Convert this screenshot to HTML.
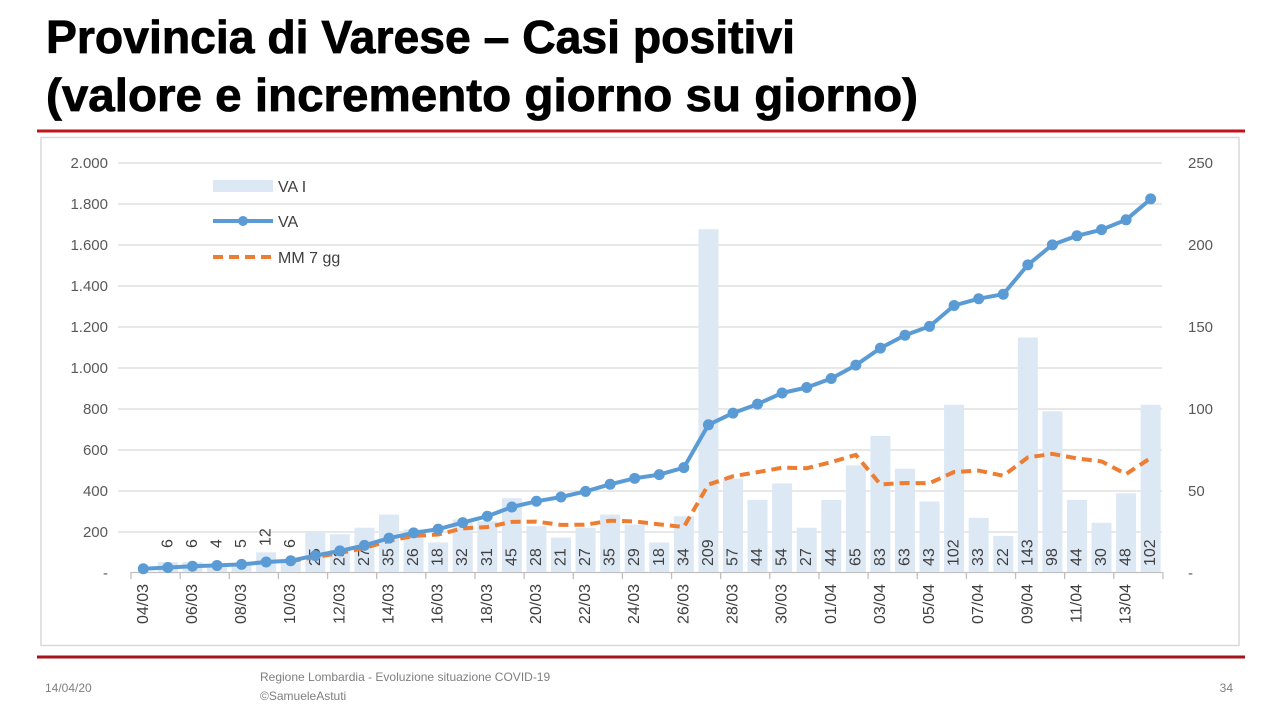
<!DOCTYPE html>
<html><head><meta charset="utf-8"><style>
html,body{margin:0;padding:0;background:#fff;width:1280px;height:720px;overflow:hidden}
svg{display:block}
text{font-family:"Liberation Sans",sans-serif}
</style></head><body>
<svg id="s" width="1280" height="720" viewBox="0 0 1280 720" xmlns="http://www.w3.org/2000/svg">
<text x="46" y="53" font-size="46" font-weight="bold" fill="#000" stroke="#000" stroke-width="0.8" textLength="749" lengthAdjust="spacingAndGlyphs">Provincia di Varese – Casi positivi</text>
<text x="46" y="111" font-size="46" font-weight="bold" fill="#000" stroke="#000" stroke-width="0.8" textLength="872" lengthAdjust="spacingAndGlyphs">(valore e incremento giorno su giorno)</text>
<line x1="37" y1="131" x2="1245" y2="131" stroke="#c0131b" stroke-width="3"/>
<line x1="37" y1="657" x2="1245" y2="657" stroke="#a4141a" stroke-width="3"/>
<rect x="41" y="137.5" width="1198" height="508" fill="none" stroke="#d9d9d9" stroke-width="1.5"/>
<g id="grid" stroke="#d9d9d9" stroke-width="1.3"></g>
<g id="bars" fill="#dde8f5"></g>
<g font-size="15" fill="#595959" text-anchor="end">
<text x="108" y="168">2.000</text><text x="108" y="209">1.800</text><text x="108" y="250">1.600</text><text x="108" y="291">1.400</text><text x="108" y="332">1.200</text><text x="108" y="373">1.000</text><text x="108" y="414">800</text><text x="108" y="455">600</text><text x="108" y="496">400</text><text x="108" y="537">200</text><text x="108" y="578">-</text>
</g>
<g font-size="15" fill="#595959">
<text x="1188" y="168">250</text><text x="1188" y="250">200</text><text x="1188" y="332">150</text><text x="1188" y="414">100</text><text x="1188" y="496">50</text><text x="1188" y="578">-</text>
</g>
<g id="labels" font-size="16" fill="#404040" dominant-baseline="central">
<text transform="translate(167.9,548) rotate(-90)">6</text>
<text transform="translate(192.4,548) rotate(-90)">6</text>
<text transform="translate(217.0,548) rotate(-90)">4</text>
<text transform="translate(241.6,548) rotate(-90)">5</text>
<text transform="translate(266.2,546) rotate(-90)">12</text>
<text transform="translate(290.7,548) rotate(-90)">6</text>
<text transform="translate(315.3,566) rotate(-90)">25</text>
<text transform="translate(339.9,566) rotate(-90)">23</text>
<text transform="translate(364.4,566) rotate(-90)">27</text>
<text transform="translate(389.0,566) rotate(-90)">35</text>
<text transform="translate(413.6,566) rotate(-90)">26</text>
<text transform="translate(438.1,566) rotate(-90)">18</text>
<text transform="translate(462.7,566) rotate(-90)">32</text>
<text transform="translate(487.3,566) rotate(-90)">31</text>
<text transform="translate(511.9,566) rotate(-90)">45</text>
<text transform="translate(536.4,566) rotate(-90)">28</text>
<text transform="translate(561.0,566) rotate(-90)">21</text>
<text transform="translate(585.6,566) rotate(-90)">27</text>
<text transform="translate(610.1,566) rotate(-90)">35</text>
<text transform="translate(634.7,566) rotate(-90)">29</text>
<text transform="translate(659.3,566) rotate(-90)">18</text>
<text transform="translate(683.8,566) rotate(-90)">34</text>
<text transform="translate(708.4,566) rotate(-90)">209</text>
<text transform="translate(733.0,566) rotate(-90)">57</text>
<text transform="translate(757.6,566) rotate(-90)">44</text>
<text transform="translate(782.1,566) rotate(-90)">54</text>
<text transform="translate(806.7,566) rotate(-90)">27</text>
<text transform="translate(831.3,566) rotate(-90)">44</text>
<text transform="translate(855.8,566) rotate(-90)">65</text>
<text transform="translate(880.4,566) rotate(-90)">83</text>
<text transform="translate(905.0,566) rotate(-90)">63</text>
<text transform="translate(929.5,566) rotate(-90)">43</text>
<text transform="translate(954.1,566) rotate(-90)">102</text>
<text transform="translate(978.7,566) rotate(-90)">33</text>
<text transform="translate(1003.3,566) rotate(-90)">22</text>
<text transform="translate(1027.8,566) rotate(-90)">143</text>
<text transform="translate(1052.4,566) rotate(-90)">98</text>
<text transform="translate(1077.0,566) rotate(-90)">44</text>
<text transform="translate(1101.5,566) rotate(-90)">30</text>
<text transform="translate(1126.1,566) rotate(-90)">48</text>
<text transform="translate(1150.7,566) rotate(-90)">102</text>
</g>
<g font-size="16" fill="#404040" dominant-baseline="central" text-anchor="end">
<text transform="translate(143.3,584) rotate(-90)">04/03</text>
<text transform="translate(192.4,584) rotate(-90)">06/03</text>
<text transform="translate(241.6,584) rotate(-90)">08/03</text>
<text transform="translate(290.7,584) rotate(-90)">10/03</text>
<text transform="translate(339.9,584) rotate(-90)">12/03</text>
<text transform="translate(389.0,584) rotate(-90)">14/03</text>
<text transform="translate(438.1,584) rotate(-90)">16/03</text>
<text transform="translate(487.3,584) rotate(-90)">18/03</text>
<text transform="translate(536.4,584) rotate(-90)">20/03</text>
<text transform="translate(585.6,584) rotate(-90)">22/03</text>
<text transform="translate(634.7,584) rotate(-90)">24/03</text>
<text transform="translate(683.8,584) rotate(-90)">26/03</text>
<text transform="translate(733.0,584) rotate(-90)">28/03</text>
<text transform="translate(782.1,584) rotate(-90)">30/03</text>
<text transform="translate(831.3,584) rotate(-90)">01/04</text>
<text transform="translate(880.4,584) rotate(-90)">03/04</text>
<text transform="translate(929.5,584) rotate(-90)">05/04</text>
<text transform="translate(978.7,584) rotate(-90)">07/04</text>
<text transform="translate(1027.8,584) rotate(-90)">09/04</text>
<text transform="translate(1077.0,584) rotate(-90)">11/04</text>
<text transform="translate(1126.1,584) rotate(-90)">13/04</text>
</g>
<g id="lines"></g>
<rect x="213" y="180" width="60" height="12" fill="#dde8f5"/>
<text x="278" y="192" font-size="16" fill="#404040">VA I</text>
<line x1="213" y1="221" x2="273" y2="221" stroke="#5b9bd5" stroke-width="4"/>
<circle cx="243" cy="221" r="5" fill="#5b9bd5"/>
<text x="278" y="227" font-size="16" fill="#404040">VA</text>
<line x1="213" y1="257" x2="273" y2="257" stroke="#ed7d31" stroke-width="4" stroke-dasharray="10,6"/>
<text x="278" y="263" font-size="16" fill="#404040">MM 7 gg</text>
<text x="45" y="692" font-size="12" fill="#7f7f7f">14/04/20</text>
<text x="260" y="681" font-size="12" fill="#7f7f7f">Regione Lombardia - Evoluzione situazione COVID-19</text>
<text x="260" y="700" font-size="12" fill="#7f7f7f">©SamueleAstuti</text>
<text x="1233" y="692" font-size="12" fill="#7f7f7f" text-anchor="end">34</text>
</svg>
<script>
(function(){
var NS="http://www.w3.org/2000/svg";
function el(p,t,a){var e=document.createElementNS(NS,t);for(var k in a)e.setAttribute(k,a[k]);document.getElementById(p).appendChild(e);return e;}
var grid="grid";
for(var i=0;i<10;i++){var y=163+41*i;el(grid,"line",{x1:118,x2:1162,y1:y,y2:y});}
el(grid,"line",{x1:131,x2:1162,y1:572.5,y2:572.5,stroke:"#bfbfbf"});
var w=24.57;
for(var k=0;k<=21;k++){var x=131+2*w*k;el(grid,"line",{x1:x,x2:x,y1:572,y2:579,stroke:"#bfbfbf"});}
var inc=[0,6,6,4,5,12,6,25,23,27,35,26,18,32,31,45,28,21,27,35,29,18,34,209,57,44,54,27,44,65,83,63,43,102,33,22,143,98,44,30,48,102];
var cum=[],c=16;
for(var i=0;i<42;i++){c+=inc[i];cum.push(c);}
function X(i){return 143.3+w*i;}
for(var i=1;i<42;i++){var h=inc[i]*1.64;el("bars","rect",{x:X(i)-10,y:572-h,width:20,height:h});}
var pts=[];
for(var i=6;i<42;i++){var s=0,n=0;for(var j=Math.max(1,i-6);j<=i;j++){s+=inc[j];n++;}var v=s/n;pts.push(X(i).toFixed(1)+","+(572-v*1.64).toFixed(1));}
el("lines","polyline",{points:pts.join(" "),fill:"none",stroke:"#ed7d31","stroke-width":4,"stroke-dasharray":"10,6"});
var p2=[];
for(var i=0;i<42;i++){p2.push(X(i).toFixed(1)+","+(572-cum[i]*0.205).toFixed(1));}
el("lines","polyline",{points:p2.join(" "),fill:"none",stroke:"#5b9bd5","stroke-width":4,"stroke-linejoin":"round"});
for(var i=0;i<42;i++){el("lines","circle",{cx:X(i),cy:572-cum[i]*0.205,r:5.5,fill:"#5b9bd5"});}
})();
</script>
</body></html>
